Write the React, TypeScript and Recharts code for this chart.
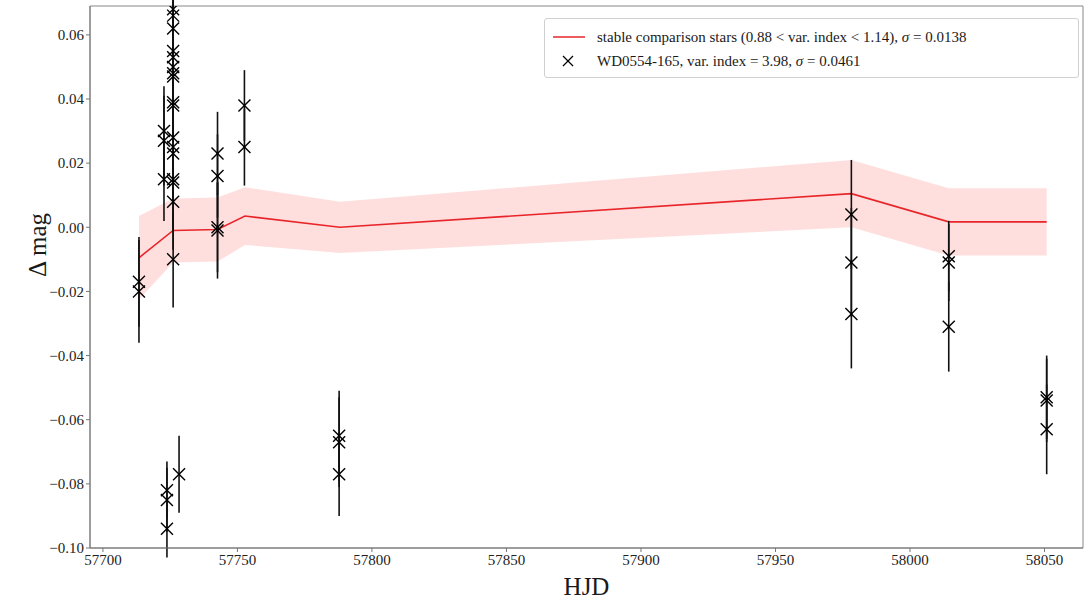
import {
  ComposedChart,
  Area,
  Line,
  Scatter,
  ErrorBar,
  XAxis,
  YAxis,
  Legend,
  ReferenceArea,
} from "recharts";

// comparison stars: mean offset and spread per epoch
const compHjd = [57713.4, 57726.1, 57742.6, 57752.8, 57788.1, 57978.2, 58014.4, 58050.8];
const compMag = [-0.0095, -0.001, -0.0007, 0.0035, 0.0, 0.0105, 0.0017, 0.0017];
const compSigma = [0.013, 0.01, 0.01, 0.009, 0.008, 0.0105, 0.0105, 0.0105];

// WD0554-165 measurements
const wdHjd = [
  57713.4, 57713.4,
  57722.7, 57722.7, 57722.7,
  57726.1, 57726.1, 57726.1, 57726.1, 57726.1, 57726.1, 57726.1, 57726.1, 57726.1,
  57726.1, 57726.1, 57726.1, 57726.1, 57726.1, 57726.1, 57726.1, 57726.1,
  57723.8, 57723.8, 57723.8,
  57728.3,
  57742.6, 57742.6, 57742.6, 57742.6,
  57752.6, 57752.6,
  57787.8, 57787.8, 57787.8,
  57978.2, 57978.2, 57978.2,
  58014.4, 58014.4, 58014.4,
  58050.8, 58050.8, 58050.8,
];
const wdMag = [
  -0.017, -0.02,
  0.03, 0.027, 0.015,
  0.068, 0.066, 0.062, 0.055, 0.053, 0.05, 0.048, 0.047, 0.039,
  0.038, 0.028, 0.025, 0.023, 0.015, 0.014, 0.008, -0.01,
  -0.082, -0.085, -0.094,
  -0.077,
  0.023, 0.016, -0.001, 0.0,
  0.038, 0.025,
  -0.065, -0.067, -0.077,
  0.004, -0.011, -0.027,
  -0.009, -0.011, -0.031,
  -0.053, -0.054, -0.063,
];
const wdErr = [
  0.014, 0.016,
  0.014, 0.014, 0.013,
  0.015, 0.015, 0.015, 0.015, 0.015, 0.015, 0.015, 0.015, 0.015,
  0.015, 0.015, 0.015, 0.015, 0.015, 0.015, 0.015, 0.015,
  0.009, 0.01, 0.009,
  0.012,
  0.013, 0.013, 0.015, 0.014,
  0.011, 0.012,
  0.014, 0.014, 0.013,
  0.017, 0.017, 0.017,
  0.011, 0.012, 0.014,
  0.013, 0.013, 0.014,
];

const xTicks = [57700, 57750, 57800, 57850, 57900, 57950, 58000, 58050];
const yTicks = [-0.1, -0.08, -0.06, -0.04, -0.02, 0.0, 0.02, 0.04, 0.06];

const compData = compHjd.map((h, i) => ({
  hjd: h,
  mag: compMag[i],
  band: [compMag[i] - compSigma[i], compMag[i] + compSigma[i]],
}));
const wdData = wdHjd.map((h, i) => ({ hjd: h, mag: wdMag[i], err: wdErr[i] }));

const X_DOMAIN: [number, number] = [57695.2, 58064.3];
const Y_DOMAIN: [number, number] = [-0.1, 0.069];
const FONT = "'Liberation Serif', 'DejaVu Serif', serif";

const fmtY = (v: number) => (v < 0 ? "\u2212" + Math.abs(v).toFixed(2) : v.toFixed(2));

function Cross(props: any) {
  const { cx, cy } = props;
  if (cx == null || cy == null) return null;
  const s = 6;
  return (
    <g stroke="#000" strokeWidth={1.4}>
      <line x1={cx - s} y1={cy - s} x2={cx + s} y2={cy + s} />
      <line x1={cx - s} y1={cy + s} x2={cx + s} y2={cy - s} />
    </g>
  );
}

function LegendBox() {
  return (
    <div
      style={{
        width: 535,
        height: 60,
        border: "1px solid #d0d0d0",
        borderRadius: 3,
        background: "rgba(255,255,255,0.85)",
        fontFamily: FONT,
        fontSize: 15,
        color: "#1a1a1a",
        boxSizing: "border-box",
        padding: "6px 0 0 6px",
      }}
    >
      <div style={{ display: "flex", alignItems: "center", height: 24 }}>
        <svg width={40} height={10}>
          <line x1={2} y1={5} x2={34} y2={5} stroke="#e8262a" strokeWidth={1.5} />
        </svg>
        <span style={{ marginLeft: 6 }}>
          stable comparison stars (0.88 &lt; var. index &lt; 1.14), <i>σ</i> = 0.0138
        </span>
      </div>
      <div style={{ display: "flex", alignItems: "center", height: 24 }}>
        <svg width={40} height={14}>
          <g stroke="#000" strokeWidth={1.3}>
            <line x1={12} y1={2} x2={22} y2={12} />
            <line x1={12} y1={12} x2={22} y2={2} />
          </g>
        </svg>
        <span style={{ marginLeft: 6 }}>
          WD0554-165, var. index = 3.98, <i>σ</i> = 0.0461
        </span>
      </div>
    </div>
  );
}

export default function App() {
  return (
    <div style={{ position: "absolute", left: 0, top: 0, background: "#fff" }}>
      <ComposedChart
        width={1087}
        height={601}
        data={compData}
        margin={{ top: 6, right: 4, bottom: 0, left: 4 }}
      >
        <XAxis
          dataKey="hjd"
          type="number"
          domain={X_DOMAIN}
          ticks={xTicks}
          allowDataOverflow
          height={53}
          stroke="#777"
          tickSize={4}
          tick={{ fill: "#222", fontSize: 15, fontFamily: FONT }}
          label={{
            value: "HJD",
            position: "insideBottom",
            offset: 6,
            fill: "#1a1a1a",
            fontSize: 25,
            fontFamily: FONT,
          }}
        />
        <YAxis
          type="number"
          domain={Y_DOMAIN}
          ticks={yTicks}
          allowDataOverflow
          width={86}
          stroke="#777"
          tickSize={4}
          tickFormatter={fmtY}
          tick={{ fill: "#222", fontSize: 15, fontFamily: FONT }}
          label={{
            value: "Δ mag",
            angle: -90,
            position: "insideLeft",
            offset: 33,
            fill: "#1a1a1a",
            fontSize: 25,
            fontFamily: FONT,
          }}
        />
        <ReferenceArea
          x1={X_DOMAIN[0]}
          x2={X_DOMAIN[1]}
          y1={Y_DOMAIN[0]}
          y2={Y_DOMAIN[1]}
          fill="none"
          stroke="#888"
          strokeWidth={1}
        />
        <Area
          dataKey="band"
          type="linear"
          stroke="none"
          fill="#ff0000"
          fillOpacity={0.13}
          isAnimationActive={false}
          legendType="none"
        />
        <Line
          dataKey="mag"
          type="linear"
          stroke="#e8262a"
          strokeWidth={1.6}
          dot={false}
          isAnimationActive={false}
        />
        <Scatter data={wdData} dataKey="mag" shape={<Cross />} isAnimationActive={false}>
          <ErrorBar dataKey="err" direction="y" width={0} stroke="#111" strokeWidth={1.6} />
        </Scatter>
        <Legend
          layout="horizontal"
          verticalAlign="middle"
          align="center"
          wrapperStyle={{ top: 18, left: 544, width: 535 }}
          content={() => <LegendBox />}
        />
      </ComposedChart>
    </div>
  );
}
